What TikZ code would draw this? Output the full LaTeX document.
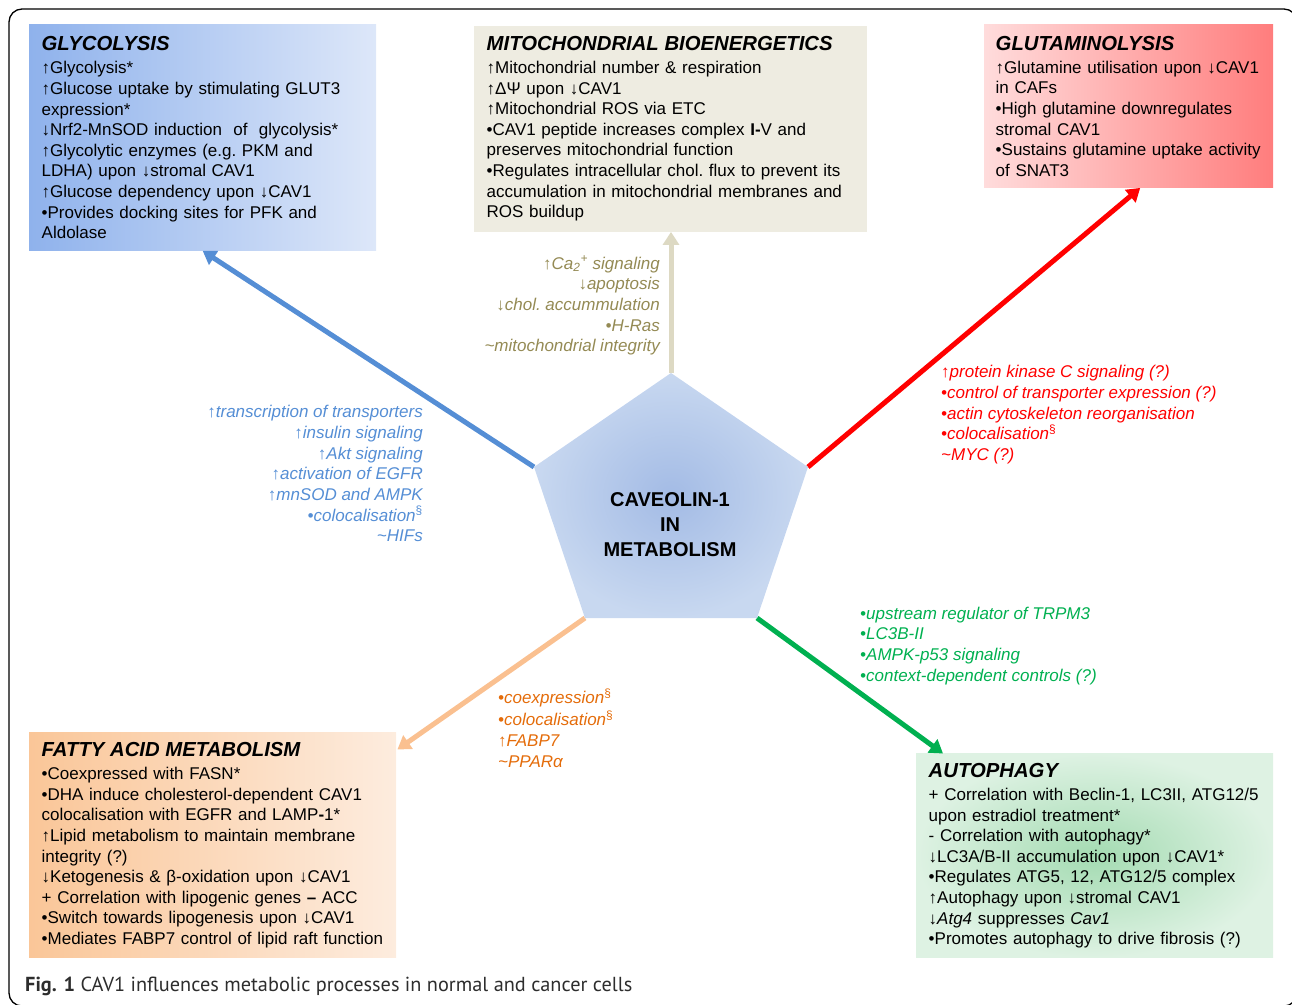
\documentclass[tikz,border=0pt]{standalone}
\usepackage{fontspec}
\setmainfont{Liberation Sans}
\newfontfamily\captionfont{PT Sans}
\usetikzlibrary{arrows.meta}

\definecolor{glyDark}{RGB}{143,178,236}
\definecolor{glyLight}{RGB}{221,231,249}
\definecolor{glyLine}{RGB}{85,142,213}
\definecolor{mitoFill}{RGB}{238,236,225}
\definecolor{mitoLine}{RGB}{221,217,195}
\definecolor{mitoText}{RGB}{148,138,84}
\definecolor{gluLight}{RGB}{255,220,220}
\definecolor{gluDark}{RGB}{255,125,125}
\definecolor{fatDark}{RGB}{250,198,152}
\definecolor{fatLight}{RGB}{253,236,222}
\definecolor{fatLine}{RGB}{250,192,144}
\definecolor{fatText}{RGB}{228,108,10}
\definecolor{autInner}{RGB}{164,219,178}
\definecolor{autOuter}{RGB}{222,242,227}
\definecolor{autLine}{RGB}{0,176,80}
\definecolor{cavInner}{RGB}{163,187,229}
\definecolor{cavOuter}{RGB}{200,216,240}
\definecolor{capGrey}{RGB}{45,45,45}

\newcommand\boxtitle[1]{{\fontsize{20.3}{20.6}\selectfont\bfseries\itshape #1}}

\begin{document}
\begin{tikzpicture}[x=1pt,y=-1pt,
    box/.style={anchor=north west,inner xsep=12.5pt,inner ysep=0pt,align=left,
        font=\fontsize{17}{20.6}\selectfont},
    lbl/.style={inner sep=0pt,font=\fontsize{17}{20.7}\selectfont\itshape},
    link/.style={line width=5pt,-{Triangle[length=13pt,width=16pt]}}]
    \useasboundingbox (0,0) rectangle (1292,1004);
    \draw[line width=1.3pt,rounded corners=13pt] (9,9) rectangle (1297,1006);

    \node[box,left color=glyDark,right color=glyLight,text width=322pt,minimum height=226pt] (glyco) at (29,24.5)
        {\boxtitle{GLYCOLYSIS}\\[2.4pt]
        ↑Glycolysis*\\
        ↑Glucose uptake by stimulating GLUT3\\
        expression*\\
        ↓Nrf2-MnSOD induction\ \ of\ \ glycolysis*\\
        ↑Glycolytic enzymes (e.g.\ PKM and\\
        LDHA) upon ↓stromal CAV1\\
        ↑Glucose dependency upon ↓CAV1\\
        •Provides docking sites for PFK and\\
        Aldolase};
    \node[box,fill=mitoFill,text width=368pt,minimum height=206pt] (mito) at (474,25.5)
        {\boxtitle{MITOCHONDRIAL BIOENERGETICS}\\[2.4pt]
        ↑Mitochondrial number \& respiration\\
        ↑ΔΨ upon ↓CAV1\\
        ↑Mitochondrial ROS via ETC\\
        •CAV1 peptide increases complex \textbf{I-}V and\\
        preserves mitochondrial function\\
        •Regulates intracellular chol.\ flux to prevent its\\
        accumulation in mitochondrial membranes and\\
        ROS buildup};
    \node[box,inner xsep=11.5pt,left color=gluLight,right color=gluDark,text width=266pt,minimum height=163pt] (glut) at (984,24.5)
        {\boxtitle{GLUTAMINOLYSIS}\\[2.4pt]
        ↑Glutamine utilisation upon ↓CAV1\\
        in CAFs\\
        •High glutamine downregulates\\
        stromal CAV1\\
        •Sustains glutamine uptake activity\\
        of SNAT3};
    \node[box,left color=fatDark,right color=fatLight,text width=342pt,minimum height=225pt] (fatty) at (29,732.5)
        {\boxtitle{FATTY ACID METABOLISM}\\[2.4pt]
        •Coexpressed with FASN*\\
        •DHA induce cholesterol-dependent CAV1\\
        colocalisation with EGFR and LAMP\textbf{-}1*\\
        ↑Lipid metabolism to maintain membrane\\
        integrity (?)\\
        ↓Ketogenesis \& β-oxidation upon ↓CAV1\\
        + Correlation with lipogenic genes \textbf{–} ACC\\
        •Switch towards lipogenesis upon ↓CAV1\\
        •Mediates FABP7 control of lipid raft function};
    \node[box,inner color=autInner,outer color=autOuter,text width=332pt,minimum height=204pt] (autoph) at (916,753.5)
        {\boxtitle{AUTOPHAGY}\\[2.4pt]
        + Correlation with Beclin-1, LC3II, ATG12/5\\
        upon estradiol treatment*\\
        - Correlation with autophagy*\\
        ↓LC3A/B-II accumulation upon ↓CAV1*\\
        •Regulates ATG5, 12, ATG12/5 complex\\
        ↑Autophagy upon ↓stromal CAV1\\
        ↓\textit{Atg4} suppresses \textit{Cav1}\\
        •Promotes autophagy to drive fibrosis (?)};

    \coordinate (pTop) at (671,373);
    \coordinate (pLeft) at (534,467);
    \coordinate (pRight) at (808,467);
    \coordinate (pBL) at (585,618);
    \coordinate (pBR) at (757,618);

    \draw[link,glyLine] (pLeft) -- (glyco.south);
    \draw[link,mitoLine] (pTop) -- (pTop |- mito.south);
    \draw[link,red] (pRight) -- ([xshift=11.5pt]glut.south);
    \draw[link,fatLine] (pBL) -- ([shift={(1,17)}]fatty.north east);
    \draw[link,autLine] (pBR) -- ([xshift=27pt]autoph.north west);

    \shade[inner color=cavInner,outer color=cavOuter] (pTop) -- (pRight) -- (pBR) -- (pBL) -- (pLeft) -- cycle;
    \node[font=\fontsize{20}{25}\selectfont\bfseries,align=center] (cav) at (670,525) {CAVEOLIN-1\\IN\\METABOLISM};

    \node[lbl,glyLine,anchor=north east,align=right] (glycoLbl) at (423,403)
        {\strut↑transcription of transporters\\
        ↑insulin signaling\\
        ↑Akt signaling\\
        ↑activation of EGFR\\
        ↑mnSOD and AMPK\\
        •colocalisation\textsuperscript{\upshape§}\\
        \textasciitilde HIFs};
    \node[lbl,mitoText,anchor=north east,align=right] (mitoLbl) at (660,254.5)
        {\strut↑Ca\textsubscript{2}\textsuperscript{+} signaling\\
        ↓apoptosis\\
        ↓chol.\ accummulation\\
        •H-Ras\\
        \textasciitilde mitochondrial integrity};
    \node[lbl,red,anchor=north west,align=left] (glutLbl) at (941,363)
        {\strut↑protein kinase C signaling (?)\\
        •control of transporter expression (?)\\
        •actin cytoskeleton reorganisation\\
        •colocalisation\textsuperscript{\upshape§}\\
        \textasciitilde MYC (?)};
    \node[lbl,autLine,anchor=north west,align=left] (autophLbl) at (860,604.5)
        {\strut•upstream regulator of TRPM3\\
        •LC3B-II\\
        •AMPK-p53 signaling\\
        •context-dependent controls (?)};
    \node[lbl,fatText,anchor=north west,align=left] (fattyLbl) at (498,688.5)
        {\strut•coexpression\textsuperscript{\upshape§}\\
        •colocalisation\textsuperscript{\upshape§}\\
        ↑FABP7\\
        \textasciitilde PPARα};

    \node[anchor=base west,inner sep=0pt,font=\captionfont\fontsize{20.3}{23}\selectfont,text=capGrey] (caption) at (25,991)
        {\textbf{Fig. 1} CAV1 influences metabolic processes in normal and cancer cells};
\end{tikzpicture}
\end{document}
